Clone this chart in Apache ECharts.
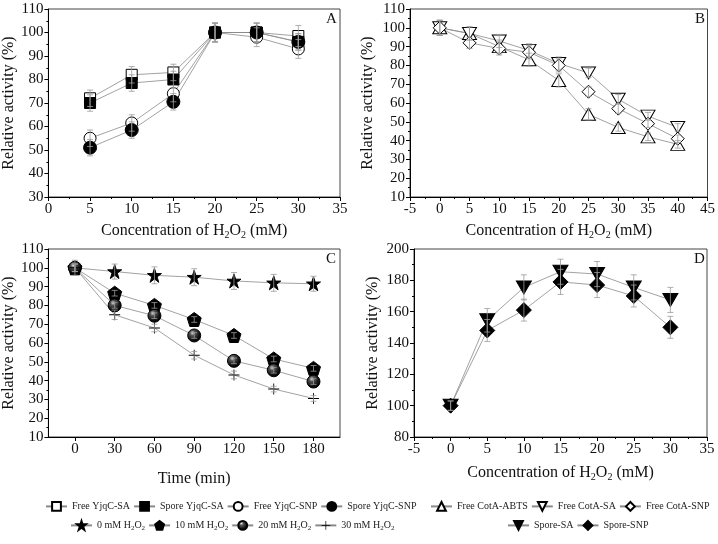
<!DOCTYPE html>
<html><head><meta charset="utf-8">
<script src="https://cdn.jsdelivr.net/npm/echarts@6/dist/echarts.min.js"></script>
<style>html,body{margin:0;padding:0;background:#fff}#c{width:718px;height:544px}</style>
</head><body><div id="c"></div>
<script>
// ---------- DATA ----------
// Panel A
var concA = [5, 10, 15, 20, 25, 30];
var freeYjqcSA = [72, 82, 83, 100, 100, 98.5];
var sporeYjqcSA = [70, 78.5, 80, 100, 100, 96];
var freeYjqcSNP = [55, 61.5, 74, 100, 98, 93];
var sporeYjqcSNP = [51, 58.5, 70.5, 100, 100, 96];
var errFreeYjqcSA = [3.5, 3.5, 3.5, 4, 4, 4.5];
var errSporeYjqcSA = [3.5, 3.5, 3.5, 4, 4, 3.5];
var errFreeYjqcSNP = [3.5, 3.5, 3.5, 4, 4, 4];
var errSporeYjqcSNP = [3.5, 3.5, 3.5, 4, 4, 3.5];
// Panel B
var concB = [0, 5, 10, 15, 20, 25, 30, 35, 40];
var freeCotaABTS = [100, 97, 90, 83, 72, 54, 47, 42, 38];
var freeCotaSA = [100, 97, 93, 88, 81, 76, 62, 53, 47];
var freeCotaSNP = [100, 92, 89, 87, 80, 66, 57, 49, 41];
var errCotaABTS = [4, 3.5, 3.5, 3.5, 3.5, 3, 2, 2, 2];
var errCotaSA = [4, 3.5, 3.5, 3.5, 3.5, 2.5, 2.5, 2, 2];
var errCotaSNP = [4, 3, 3.5, 3.5, 3.5, 2.5, 2.5, 2, 2];
// Panel C
var timeC = [0, 30, 60, 90, 120, 150, 180];
var h2o2_0 = [100, 98, 96, 95, 93, 92, 91.5];
var h2o2_10 = [100, 86.5, 80, 72.5, 64, 51.5, 46.5];
var h2o2_20 = [100, 80, 74.5, 64, 50.5, 45.5, 39.5];
var h2o2_30 = [100, 75, 68, 53.5, 43, 35.5, 30.5];
var err0 = [4, 4, 4.5, 4.5, 4.5, 4.5, 4];
var err10 = [2, 1.5, 1.5, 1.5, 1.5, 1.5, 1.5];
var err20 = [2, 1.5, 1.5, 1.5, 1.5, 1.5, 1.5];
var err30 = [2, 2.5, 2, 2, 2, 1.5, 1.5];
// Panel D
var concD = [0, 5, 10, 15, 20, 25, 30];
var sporeSA = [100, 154.5, 175.5, 185.5, 184, 175.5, 167.5];
var sporeSNP = [100, 148, 161, 179, 177, 170, 150];
var errSporeSA = [3, 7.5, 8, 8, 8, 8, 8];
var errSporeSNP = [3, 7, 7, 8, 8, 7, 7];

// ---------- STYLE ----------
var FONT = '"Liberation Serif", "Times New Roman", serif';
var LINE = '#8a8a8a';
var pentagon = 'path://M5,0 L10,3.8 L8.1,10 L1.9,10 L0,3.8 Z';
var star = 'path://M5,0 L6.2,3.6 L10,3.6 L6.9,5.9 L8.1,9.6 L5,7.3 L1.9,9.6 L3.1,5.9 L0,3.6 L3.8,3.6 Z';
var plus = 'path://M4.6,0 L5.4,0 L5.4,4.6 L10,4.6 L10,5.4 L5.4,5.4 L5.4,10 L4.6,10 L4.6,5.4 L0,5.4 L0,4.6 L4.6,4.6 Z';
var downTri = 'path://M0,0 L10,0 L5,10 Z';
var upTri = 'path://M5,0 L10,10 L0,10 Z';
var sphere = {type:'radial', x:0.38, y:0.32, r:0.7, colorStops:[{offset:0,color:'#e8e8e8'},{offset:0.25,color:'#555'},{offset:0.7,color:'#111'},{offset:1,color:'#000'}]};

function pairs(xs, ys){ return xs.map(function(x,i){return [x, ys[i]];}); }
function errData(xs, ys, es){ return xs.map(function(x,i){return [x, ys[i]-es[i], ys[i]+es[i]];}); }

function lineSeries(name, g, xs, ys, symbol, size, fill, stroke){
  return {type:'line', name:name, xAxisIndex:g, yAxisIndex:g, data:pairs(xs,ys),
    symbol:symbol, symbolSize:size, showSymbol:true,
    lineStyle:{color:LINE, width:0.8},
    itemStyle:{color:fill, borderColor:stroke||'#000', borderWidth:1, opacity:1},
    emphasis:{disabled:true}, z:3, animation:false};
}
var errCount = 0;
function errSeries(g, xs, ys, es){
  errCount++;
  return {type:'custom', name:'err_'+errCount, xAxisIndex:g, yAxisIndex:g, data:errData(xs,ys,es),
    z:4, animation:false, silent:true,
    renderItem:function(params, api){
      var x = api.value(0), lo = api.coord([x, api.value(1)]), hi = api.coord([x, api.value(2)]);
      var w = 3, st = {stroke:'#9a9a9a', lineWidth:0.8};
      return {type:'group', children:[
        {type:'line', shape:{x1:lo[0],y1:lo[1],x2:hi[0],y2:hi[1]}, style:st},
        {type:'line', shape:{x1:lo[0]-w,y1:lo[1],x2:lo[0]+w,y2:lo[1]}, style:st},
        {type:'line', shape:{x1:hi[0]-w,y1:hi[1],x2:hi[0]+w,y2:hi[1]}, style:st}
      ]};
    }};
}

var subRich = {sub:{fontSize:10, fontFamily:FONT, color:'#111', padding:[9,0,0,0]}};
var concName = 'Concentration of H{sub|2}O{sub|2} (mM)';

function xAxis(g, min, max, interval, name, nameGap, custom){
  var ax = {type:'value', gridIndex:g, min:min, max:max, interval:interval,
    name:name, nameLocation:'middle', nameGap:nameGap,
    nameTextStyle:{fontFamily:FONT, fontSize:16, color:'#111', rich:subRich},
    axisLine:{show:true, onZero:false, lineStyle:{color:'#000', width:1}},
    axisTick:{show:true, inside:false, length:4, lineStyle:{color:'#000'}},
    minorTick:{show:true, splitNumber:2, length:2, lineStyle:{color:'#000'}},
    axisLabel:{fontFamily:FONT, fontSize:15, color:'#111', margin:5},
    splitLine:{show:false}};
  if (custom){
    ax.axisLabel.customValues = custom;
    ax.axisTick.customValues = custom;
    ax.minorTick.show = false;
  }
  return ax;
}
function yAxis(g, min, max, interval, nameGap){
  return {type:'value', gridIndex:g, min:min, max:max, interval:interval,
    name:'Relative activity (%)', nameLocation:'middle', nameGap:nameGap,
    nameTextStyle:{fontFamily:FONT, fontSize:16, color:'#111'},
    axisLine:{show:true, onZero:false, lineStyle:{color:'#000', width:1}},
    axisTick:{show:true, inside:false, length:4, lineStyle:{color:'#000'}},
    minorTick:{show:true, splitNumber:2, length:2, lineStyle:{color:'#000'}},
    axisLabel:{fontFamily:FONT, fontSize:15, color:'#111', margin:5},
    splitLine:{show:false}};
}

var subFmt = function(n){
  var parts = n.split('H2O2');
  if (parts.length === 1) return '{n|' + n + '}';
  return '{n|' + parts[0] + 'H}{sub|2}{n|O}{sub|2}' + (parts[1] ? '{n|' + parts[1] + '}' : '');
};
var LFS = 10;
var legendText = {fontFamily:FONT, fontSize:LFS, color:'#222', rich:{
  n:{fontSize:LFS, fontFamily:FONT, color:'#222'},
  sub:{fontSize:7, fontFamily:FONT, color:'#222', padding:[6,0,0,0]}}};
function legend(left, top, names, gap){
  return {left:left, top:top, orient:'horizontal', itemWidth:21, itemHeight:11, itemGap:gap,
    data:names, textStyle:legendText, formatter:subFmt, selectedMode:false, padding:0,
    inactiveColor:'#ccc'};
}

var option = {
  animation:false,
  backgroundColor:'#fff',
  grid:[
    {left:45, top:9, width:295, height:188, show:true, borderColor:'#444', borderWidth:1},
    {left:410, top:9, width:299, height:188, show:true, borderColor:'#444', borderWidth:1},
    {left:45, top:249, width:295, height:188, show:true, borderColor:'#444', borderWidth:1},
    {left:414, top:249, width:293, height:188, show:true, borderColor:'#444', borderWidth:1}
  ],
  xAxis:[
    xAxis(0, 0, 35, 5, concName, 24),
    xAxis(1, -5, 45, 5, concName, 24),
    xAxis(2, -20, 200, 10, 'Time (min)', 34, [0,30,60,90,120,150,180]),
    xAxis(3, -5, 35, 5, concName, 26)
  ],
  yAxis:[
    yAxis(0, 30, 110, 10, 28),
    yAxis(1, 10, 110, 10, 34),
    yAxis(2, 10, 110, 10, 30),
    yAxis(3, 80, 200, 20, 33)
  ],
  legend:[
    legend(45, 501, ['Free YjqC-SA','Spore YjqC-SA','Free YjqC-SNP','Spore YjqC-SNP'], 3),
    legend(430, 501, ['Free CotA-ABTS','Free CotA-SA','Free CotA-SNP'], 3),
    legend(70, 520, ['0 mM H2O2','10 mM H2O2','20 mM H2O2','30 mM H2O2'], 3),
    legend(507, 520, ['Spore-SA','Spore-SNP'], 3)
  ],
  graphic:[
    {type:'text', left:326, top:12, style:{text:'A', font:'15px "Liberation Serif"', fill:'#111'}},
    {type:'text', left:695, top:12, style:{text:'B', font:'15px "Liberation Serif"', fill:'#111'}},
    {type:'text', left:326, top:252, style:{text:'C', font:'15px "Liberation Serif"', fill:'#111'}},
    {type:'text', left:694, top:252, style:{text:'D', font:'15px "Liberation Serif"', fill:'#111'}}
  ],
  series:[
    lineSeries('Free YjqC-SA', 0, concA, freeYjqcSA, 'rect', 11, '#fff'),
    lineSeries('Spore YjqC-SA', 0, concA, sporeYjqcSA, 'rect', 11, '#000'),
    lineSeries('Free YjqC-SNP', 0, concA, freeYjqcSNP, 'circle', 12, '#fff'),
    lineSeries('Spore YjqC-SNP', 0, concA, sporeYjqcSNP, 'circle', 13, '#000'),
    errSeries(0, concA, freeYjqcSA, errFreeYjqcSA),
    errSeries(0, concA, sporeYjqcSA, errSporeYjqcSA),
    errSeries(0, concA, freeYjqcSNP, errFreeYjqcSNP),
    errSeries(0, concA, sporeYjqcSNP, errSporeYjqcSNP),

    lineSeries('Free CotA-ABTS', 1, concB, freeCotaABTS, upTri, [14,12], '#fff'),
    lineSeries('Free CotA-SA', 1, concB, freeCotaSA, downTri, [14,12], '#fff'),
    lineSeries('Free CotA-SNP', 1, concB, freeCotaSNP, 'diamond', [13,13], '#fff'),
    errSeries(1, concB, freeCotaABTS, errCotaABTS),
    errSeries(1, concB, freeCotaSA, errCotaSA),
    errSeries(1, concB, freeCotaSNP, errCotaSNP),

    lineSeries('0 mM H2O2', 2, timeC, h2o2_0, star, 14, '#000'),
    lineSeries('10 mM H2O2', 2, timeC, h2o2_10, pentagon, 14, '#000'),
    lineSeries('20 mM H2O2', 2, timeC, h2o2_20, 'circle', 13, sphere),
    lineSeries('30 mM H2O2', 2, timeC, h2o2_30, plus, 11, '#000', '#000'),
    errSeries(2, timeC, h2o2_0, err0),
    errSeries(2, timeC, h2o2_10, err10),
    errSeries(2, timeC, h2o2_20, err20),
    errSeries(2, timeC, h2o2_30, err30),

    lineSeries('Spore-SA', 3, concD, sporeSA, downTri, [15,13], '#000'),
    lineSeries('Spore-SNP', 3, concD, sporeSNP, 'diamond', [15,15], '#000'),
    errSeries(3, concD, sporeSA, errSporeSA),
    errSeries(3, concD, sporeSNP, errSporeSNP)
  ]
};
option.series.forEach(function(s){ if (s.name==='30 mM H2O2'){ s.itemStyle.borderWidth=0; } });
var chart = echarts.init(document.getElementById('c'), null, {renderer:'canvas'});
chart.setOption(option);
</script></body></html>
